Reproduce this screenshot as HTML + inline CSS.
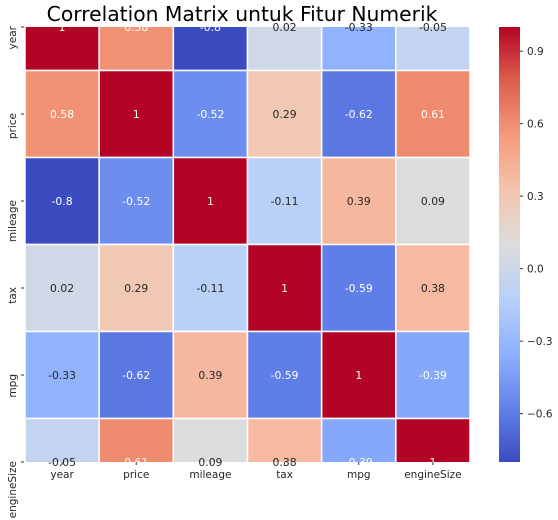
<!DOCTYPE html>
<html><head><meta charset="utf-8"><style>
body{margin:0;background:#fff;}
svg{display:block;font-family:"DejaVu Sans","Liberation Sans",sans-serif;}
</style></head><body>
<svg id="chart" width="558" height="520">
<defs>
<clipPath id="ax"><rect x="25" y="27" width="445" height="435"/></clipPath>
<linearGradient id="cbg" x1="0" y1="1" x2="0" y2="0">
<stop offset="0" stop-color="rgb(59,76,192)"/><stop offset="0.125" stop-color="rgb(98,130,234)"/>
<stop offset="0.25" stop-color="rgb(141,176,254)"/><stop offset="0.375" stop-color="rgb(184,208,249)"/>
<stop offset="0.5" stop-color="rgb(221,221,221)"/><stop offset="0.625" stop-color="rgb(245,196,173)"/>
<stop offset="0.75" stop-color="rgb(244,154,123)"/><stop offset="0.875" stop-color="rgb(222,96,77)"/>
<stop offset="1" stop-color="rgb(180,4,38)"/></linearGradient>
</defs>
<text x="229" y="21" font-size="20.3" text-anchor="middle" fill="#000" style="text-anchor:middle" transform="translate(13,0)">Correlation Matrix untuk Fitur Numerik</text>
<g id="cells" clip-path="url(#ax)"></g>
<g id="labels"></g>
<rect x="499" y="27" width="21" height="435" fill="url(#cbg)"/>
<g id="cbticks"></g>
</svg>
<script>
const rowLabels = ["year","price","mileage","tax","mpg","engineSize"];
const colLabels = ["year","price","mileage","tax","mpg","engineSize"];
const rowYear = [1, 0.58, -0.8, 0.02, -0.33, -0.05];
const rowPrice = [0.58, 1, -0.52, 0.29, -0.62, 0.61];
const rowMileage = [-0.8, -0.52, 1, -0.11, 0.39, 0.09];
const rowTax = [0.02, 0.29, -0.11, 1, -0.59, 0.38];
const rowMpg = [-0.33, -0.62, 0.39, -0.59, 1, -0.39];
const rowEngine = [-0.05, 0.61, 0.09, 0.38, -0.39, 1];
const cbTicks = [0.9, 0.6, 0.3, 0.0, -0.3, -0.6];
const cbTickLabels = ["0.9","0.6","0.3","0.0","\u22120.3","\u22120.6"];
const vmin = -0.8, vmax = 1;
const matrix = [rowYear,rowPrice,rowMileage,rowTax,rowMpg,rowEngine];

const NS="http://www.w3.org/2000/svg";
const left=25,right=470,colW=(right-left)/6;
const y0=27,rowH=87;
function xC(i){return left+colW*(i+0.5);}
function yC(j){return y0+rowH*j;}
function cbY(v){return 462-(v-vmin)/(vmax-vmin)*435;}
const stops=[[59,76,192],[98,130,234],[141,176,254],[184,208,249],[221,221,221],[245,196,173],[244,154,123],[222,96,77],[180,4,38]];
function cmap(v){let t=(v-vmin)/(vmax-vmin);t=Math.max(0,Math.min(1,t))*8;const i=Math.min(7,Math.floor(t)),f=t-i;
 return stops[i].map((a,k)=>Math.round(a+(stops[i+1][k]-a)*f));}
function lum(c){const l=c.map(x=>{x/=255;return x<=0.03928?x/12.92:Math.pow((x+0.055)/1.055,2.4);});return 0.2126*l[0]+0.7152*l[1]+0.0722*l[2];}
function mk(tag,attrs,parent){const e=document.createElementNS(NS,tag);for(const k in attrs)e.setAttribute(k,attrs[k]);parent.appendChild(e);return e;}
const cells=document.getElementById('cells'),labels=document.getElementById('labels'),cbt=document.getElementById('cbticks');
matrix.forEach((row,j)=>row.forEach((v,i)=>{
 const c=cmap(v);
 const r=mk('rect',{x:left+colW*i,y:yC(j)-rowH/2,width:colW,height:rowH,fill:`rgb(${c})`,stroke:'#fff','stroke-width':1.5},cells);
 
 
 const t=mk('text',{x:xC(i),y:yC(j)+4,'font-size':10.8,'text-anchor':'middle',fill:lum(c)>0.408?'#262626':'#fff'},labels);
 t.textContent=String(v);
 
 
}));
colLabels.forEach((l,i)=>{
 mk('line',{x1:xC(i),x2:xC(i),y1:462,y2:465,stroke:'#333'},labels);
 const t=mk('text',{x:xC(i),y:478,'font-size':10.5,'text-anchor':'middle',fill:'#262626'},labels);
 t.textContent=l;
 
 
});
rowLabels.forEach((l,j)=>{
 mk('line',{x1:21,x2:24,y1:yC(j),y2:yC(j),stroke:'#333'},labels);
 const y=yC(j)-1;
 const t=mk('text',{x:0,y:0,'font-size':10.5,'text-anchor':'end',fill:'#262626',transform:`translate(16,${y}) rotate(-90)`},labels);
 t.textContent=l;
 
 
});
cbTicks.forEach((v,k)=>{
 const y=cbY(v);
 mk('line',{x1:520,x2:523,y1:y,y2:y,stroke:'#333'},cbt);
 const t=mk('text',{x:527,y:y+4,'font-size':10.5,fill:'#262626'},cbt);
 t.textContent=cbTickLabels[k];
 
 
});
</script>
</body></html>
